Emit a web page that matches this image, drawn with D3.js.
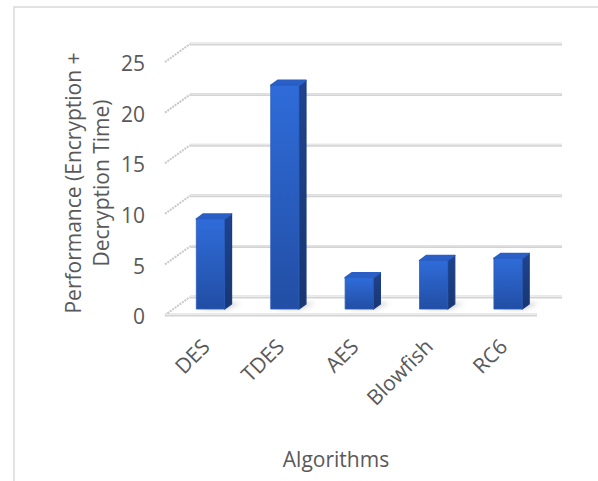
<!DOCTYPE html>
<html lang="en">
<head>
  <meta charset="UTF-8">
  <title>Algorithms performance</title>
  <style>
    body { margin: 0; background: #fff; }
    svg { display: block; }
  </style>
</head>
<body>
  <script src="https://d3js.org/d3.v7.min.js"></script>
  <script>
    'use strict';

    // data
    const algorithms = ['DES', 'TDES', 'AES', 'Blowfish', 'RC6'];
    const performance = [8.9, 22.1, 3.1, 4.8, 5.0];
    const yTicks = [0, 5, 10, 15, 20, 25];

    const width = 598;
    const height = 481;

    const textColor = '#595959';
    const fontFamily = '"Open Sans", sans-serif';
    const fontSize = '21px';

    // the fake 3d box: front plane plus a depth offset
    const floorLeft = 165;
    const floorRight = 537;
    const depthX = 25;
    const depthY = -18;

    // bars sit between these two depths (0 = front, 1 = back wall)
    const barFront = 0.33;
    const barBack = 0.61;

    const x = d3.scaleBand()
      .domain(algorithms)
      .range([floorLeft, floorRight])
      .paddingInner(0.62)
      .paddingOuter(0.31);

    const y = d3.scaleLinear()
      .domain([0, 25])
      .range([315, 62]);

    // point on the plane at depth d
    function pt(px, v, d) {
      return [px + d * depthX, y(v) + d * depthY];
    }

    const svg = d3.select('body')
      .append('svg')
      .attr('width', width)
      .attr('height', height);

    const defs = svg.append('defs');

    const front = defs.append('linearGradient')
      .attr('id', 'frontGrad')
      .attr('x1', 0).attr('y1', 0).attr('x2', 0).attr('y2', 1);
    front.append('stop').attr('offset', '0%').attr('stop-color', '#2f6cd9');
    front.append('stop').attr('offset', '100%').attr('stop-color', '#224ea4');

    const side = defs.append('linearGradient')
      .attr('id', 'sideGrad')
      .attr('x1', 0).attr('y1', 0).attr('x2', 0).attr('y2', 1);
    side.append('stop').attr('offset', '0%').attr('stop-color', '#1f4390');
    side.append('stop').attr('offset', '100%').attr('stop-color', '#183670');

    defs.append('filter')
      .attr('id', 'soft')
      .attr('x', '-50%').attr('y', '-50%').attr('width', '200%').attr('height', '200%')
      .append('feGaussianBlur')
      .attr('stdDeviation', 2.5);

    // chart border (right and bottom edges run off the picture)
    svg.append('rect')
      .attr('x', 14)
      .attr('y', 7)
      .attr('width', 620)
      .attr('height', 500)
      .attr('fill', 'none')
      .attr('stroke', '#d9d9d9')
      .attr('stroke-width', 1.5);

    const grid = svg.append('g');

    // side wall ticks (diagonals)
    grid.selectAll('.diag')
      .data(yTicks)
      .enter().append('line')
      .attr('class', 'diag')
      .attr('x1', floorLeft)
      .attr('y1', d => y(d))
      .attr('x2', floorLeft + depthX)
      .attr('y2', d => y(d) + depthY)
      .attr('stroke', '#c8c8c8')
      .attr('stroke-width', 2)
      .attr('stroke-dasharray', '2,1');

    // back wall gridlines
    grid.selectAll('.back')
      .data(yTicks)
      .enter().append('line')
      .attr('class', 'back')
      .attr('x1', floorLeft + depthX)
      .attr('y1', d => y(d) + depthY)
      .attr('x2', floorRight + depthX)
      .attr('y2', d => y(d) + depthY)
      .attr('stroke', '#d3d3d3')
      .attr('stroke-width', 3);

    grid.selectAll('.backHi')
      .data(yTicks)
      .enter().append('line')
      .attr('class', 'backHi')
      .attr('x1', floorLeft + depthX)
      .attr('y1', d => y(d) + depthY - 0.5)
      .attr('x2', floorRight + depthX)
      .attr('y2', d => y(d) + depthY - 0.5)
      .attr('stroke', '#ececec')
      .attr('stroke-width', 1);

    // floor front edge
    grid.append('line')
      .attr('x1', floorLeft)
      .attr('y1', y(0))
      .attr('x2', floorRight)
      .attr('y2', y(0))
      .attr('stroke', '#d3d3d3')
      .attr('stroke-width', 3);
    grid.append('line')
      .attr('x1', floorLeft)
      .attr('y1', y(0) - 0.5)
      .attr('x2', floorRight)
      .attr('y2', y(0) - 0.5)
      .attr('stroke', '#ececec')
      .attr('stroke-width', 1);

    const poly = pts => 'M' + pts.map(p => p.join(',')).join('L') + 'Z';

    const bars = svg.selectAll('.bar')
      .data(algorithms.map((a, i) => ({ name: a, value: performance[i] })))
      .enter().append('g')
      .attr('class', 'bar');

    // soft shadow on the floor
    bars.append('path')
      .attr('d', d => {
        const x0 = x(d.name), x1 = x0 + x.bandwidth();
        return poly([pt(x0 + 4, 0, barFront), pt(x1 + 2, 0, barFront),
                     pt(x1 + 8, 0, barBack + 0.05), pt(x0 + 10, 0, barBack + 0.05)]);
      })
      .attr('fill', '#8a8a8a')
      .attr('opacity', 0.45)
      .attr('filter', 'url(#soft)');

    // right side face
    bars.append('path')
      .attr('d', d => {
        const x1 = x(d.name) + x.bandwidth();
        return poly([pt(x1, 0, barFront), pt(x1, d.value, barFront),
                     pt(x1, d.value, barBack), pt(x1, 0, barBack)]);
      })
      .attr('fill', 'url(#sideGrad)')
      .attr('stroke', '#1c3c7c')
      .attr('stroke-width', 1.2)
      .attr('stroke-linejoin', 'round');

    // top face
    bars.append('path')
      .attr('d', d => {
        const x0 = x(d.name), x1 = x0 + x.bandwidth();
        return poly([pt(x0, d.value, barFront), pt(x1, d.value, barFront),
                     pt(x1, d.value, barBack), pt(x0, d.value, barBack)]);
      })
      .attr('fill', '#2a5fc6')
      .attr('stroke', '#2a5fc6')
      .attr('stroke-width', 1.5)
      .attr('stroke-linejoin', 'round');

    // front face
    bars.append('path')
      .attr('d', d => {
        const x0 = x(d.name), x1 = x0 + x.bandwidth();
        return poly([pt(x0, 0, barFront), pt(x0, d.value, barFront),
                     pt(x1, d.value, barFront), pt(x1, 0, barFront)]);
      })
      .attr('fill', 'url(#frontGrad)')
      .attr('stroke', '#2a5dc0')
      .attr('stroke-width', 0.8)
      .attr('stroke-linejoin', 'round');

    // y axis labels
    const yAxis = d3.axisLeft(y)
      .tickValues(yTicks)
      .tickSize(0)
      .tickPadding(20);

    const yG = svg.append('g')
      .attr('transform', 'translate(' + floorLeft + ',2)')
      .call(yAxis);
    yG.select('.domain').remove();
    yG.selectAll('text')
      .attr('fill', textColor)
      .attr('font-family', fontFamily)
      .attr('font-size', fontSize);

    // category labels, rotated
    svg.selectAll('.xlab')
      .data(algorithms)
      .enter().append('text')
      .attr('class', 'xlab')
      .attr('transform', d => 'translate(' + (x(d) + x.bandwidth() / 2 + 9) + ',348) rotate(-45)')
      .attr('text-anchor', 'end')
      .attr('fill', textColor)
      .attr('font-family', fontFamily)
      .attr('font-size', fontSize)
      .text(d => d);

    // axis titles
    const yTitle = svg.append('text')
      .attr('transform', 'translate(81,183) rotate(-90)')
      .attr('text-anchor', 'middle')
      .attr('fill', textColor)
      .attr('font-family', fontFamily)
      .attr('font-size', fontSize);
    yTitle.append('tspan').attr('x', 0).attr('dy', 0).text('Performance (Encryption +');
    yTitle.append('tspan').attr('x', 0).attr('dy', 28).text('Decryption Time)');

    svg.append('text')
      .attr('x', 336)
      .attr('y', 467)
      .attr('text-anchor', 'middle')
      .attr('fill', textColor)
      .attr('font-family', fontFamily)
      .attr('font-size', fontSize)
      .text('Algorithms');
  </script>
</body>
</html>
